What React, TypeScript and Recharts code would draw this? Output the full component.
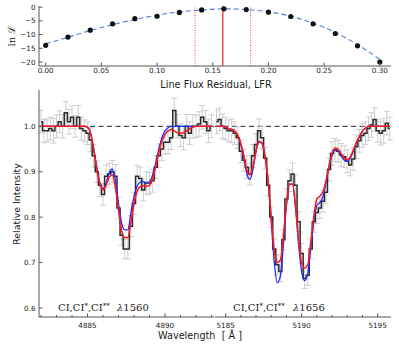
import React from 'react';
import { ComposedChart, Line, XAxis, YAxis, ReferenceLine, ErrorBar } from 'recharts';

// ---------- Top panel: likelihood vs line flux residual ----------
const lfrValues = [0, 0.02, 0.04, 0.06, 0.08, 0.1, 0.12, 0.14, 0.16, 0.18, 0.2, 0.22, 0.24, 0.26, 0.28, 0.3];
const lnLikelihood = [-13.9, -10.9, -8.4, -6.1, -4.2, -3.3, -1.9, -1.0, -0.6, -0.85, -1.8, -3.4, -6.1, -9.6, -14.1, -20.0];
const lnLikelihoodFit = [-13.3, -11.0, -8.5, -6.4, -4.5, -2.9, -1.7, -1.0, -0.6, -0.85, -1.7, -3.3, -5.8, -9.2, -13.7, -19.0];
const lfrBest = 0.159;
const lfrLow = 0.134;
const lfrHigh = 0.184;
const lfrTicks = [0, 0.05, 0.1, 0.15, 0.2, 0.25, 0.3];
const lnTicks = [-20, -15, -10, -5, 0];

// ---------- Bottom-left panel: CI λ1560 ----------
const leftWave = [
  4882.0, 4882.2, 4882.4, 4882.6, 4882.8, 4883.0, 4883.2, 4883.4, 4883.6, 4883.8,
  4884.0, 4884.2, 4884.4, 4884.6, 4884.8, 4885.0, 4885.2, 4885.4, 4885.6, 4885.8,
  4886.0, 4886.2, 4886.4, 4886.6, 4886.8, 4887.0, 4887.2, 4887.4, 4887.6, 4887.8,
  4888.0, 4888.2, 4888.4, 4888.6, 4888.8, 4889.0, 4889.2, 4889.4, 4889.6, 4889.8,
  4890.0, 4890.2, 4890.4, 4890.6, 4890.8, 4891.0, 4891.2, 4891.4, 4891.6, 4891.8,
  4892.0, 4892.2, 4892.4, 4892.6, 4892.8, 4893.0,
];
const leftFlux = [
  1.01, 0.99, 0.99, 0.995, 0.99, 1.0, 1.01, 1.0, 1.03, 1.01,
  1.02, 1.0, 1.02, 0.995, 0.99, 0.985, 0.97, 0.935, 0.9, 0.87,
  0.85, 0.89, 0.895, 0.9, 0.89, 0.82, 0.76, 0.73, 0.73, 0.78,
  0.83, 0.89, 0.885, 0.86, 0.875, 0.875, 0.88, 0.91, 0.935, 0.95,
  0.965, 0.965, 0.975, 1.035, 1.0, 0.98, 0.975, 1.0, 0.985, 1.0,
  1.0, 1.005, 1.02, 1.01, 0.99, 1.0,
];
const leftErr = [
  0.025, 0.026, 0.024, 0.025, 0.027, 0.025, 0.024, 0.026, 0.025, 0.027,
  0.025, 0.024, 0.026, 0.025, 0.024, 0.025, 0.026, 0.025, 0.024, 0.025,
  0.024, 0.025, 0.024, 0.025, 0.026, 0.024, 0.022, 0.022, 0.022, 0.023,
  0.024, 0.024, 0.025, 0.024, 0.025, 0.024, 0.025, 0.025, 0.026, 0.025,
  0.026, 0.025, 0.026, 0.027, 0.026, 0.025, 0.027, 0.026, 0.025, 0.026,
  0.025, 0.027, 0.026, 0.025, 0.026, 0.025,
];
const leftBlue = [
  1.0, 1.0, 1.0, 1.0, 1.0, 1.0, 1.0, 1.0, 1.0, 1.0,
  1.0, 1.0, 1.0, 1.0, 1.0, 0.998, 0.985, 0.95, 0.91, 0.875,
  0.862, 0.875, 0.898, 0.906, 0.88, 0.83, 0.787, 0.772, 0.772, 0.81,
  0.845, 0.868, 0.877, 0.878, 0.876, 0.878, 0.893, 0.92, 0.95, 0.975,
  0.99, 0.997, 1.0, 1.0, 1.0, 1.0, 1.0, 1.0, 1.0, 1.0,
  1.0, 1.0, 1.0, 1.0, 1.0, 1.0,
];
const leftRed = [
  1.0, 1.0, 1.0, 1.0, 1.0, 1.0, 1.0, 1.0, 1.0, 1.0,
  1.0, 1.0, 1.0, 1.0, 1.0, 0.998, 0.985, 0.95, 0.905, 0.873,
  0.86, 0.87, 0.888, 0.893, 0.865, 0.815, 0.771, 0.755, 0.755, 0.79,
  0.83, 0.857, 0.867, 0.869, 0.868, 0.87, 0.885, 0.912, 0.943, 0.967,
  0.982, 0.99, 0.993, 0.99, 0.986, 0.985, 0.986, 0.99, 0.995, 0.998,
  1.0, 1.0, 1.0, 1.0, 1.0, 1.0,
];
const leftMajorTicks = [4885, 4890];
const leftAllTicks = [4882, 4883, 4884, 4885, 4886, 4887, 4888, 4889, 4890, 4891, 4892, 4893];

// ---------- Bottom-right panel: CI λ1656 ----------
const rightWave = [
  5184.4, 5184.6, 5184.8, 5185.0, 5185.2, 5185.4, 5185.6, 5185.8, 5186.0, 5186.2,
  5186.4, 5186.6, 5186.8, 5187.0, 5187.2, 5187.4, 5187.6, 5187.8, 5188.0, 5188.2,
  5188.4, 5188.6, 5188.8, 5189.0, 5189.2, 5189.4, 5189.6, 5189.8, 5190.0, 5190.2,
  5190.4, 5190.6, 5190.8, 5191.0, 5191.2, 5191.4, 5191.6, 5191.8, 5192.0, 5192.2,
  5192.4, 5192.6, 5192.8, 5193.0, 5193.2, 5193.4, 5193.6, 5193.8, 5194.0, 5194.2,
  5194.4, 5194.6, 5194.8, 5195.0, 5195.2, 5195.4, 5195.6, 5195.8,
];
const rightFlux = [
  1.01, 1.015, 1.0, 0.995, 0.99, 0.99, 0.985, 0.975, 0.945, 0.925,
  0.91, 0.895, 0.935, 0.96, 0.99, 0.975, 0.93, 0.87, 0.8, 0.73,
  0.695, 0.68, 0.75, 0.84, 0.88, 0.895, 0.87, 0.79, 0.72, 0.665,
  0.672, 0.73, 0.79, 0.81, 0.82, 0.835, 0.855, 0.905, 0.94, 0.948,
  0.945, 0.937, 0.933, 0.923, 0.915, 0.928, 0.955, 0.968, 0.98, 0.985,
  0.995, 1.003, 1.015, 0.99, 0.985, 0.99, 1.007, 0.995,
];
const rightErr = [
  0.026, 0.025, 0.027, 0.025, 0.024, 0.026, 0.025, 0.024, 0.025, 0.024,
  0.025, 0.024, 0.025, 0.024, 0.026, 0.025, 0.024, 0.023, 0.023, 0.022,
  0.022, 0.022, 0.022, 0.023, 0.024, 0.024, 0.023, 0.022, 0.022, 0.022,
  0.022, 0.022, 0.023, 0.024, 0.023, 0.024, 0.024, 0.025, 0.026, 0.025,
  0.024, 0.025, 0.024, 0.025, 0.024, 0.025, 0.026, 0.025, 0.026, 0.025,
  0.026, 0.027, 0.026, 0.025, 0.026, 0.027, 0.026, 0.025,
];
const rightBlue = [
  1.0, 1.0, 1.0, 0.998, 0.995, 0.993, 0.99, 0.98, 0.96, 0.93,
  0.895, 0.883, 0.905, 0.945, 0.966, 0.962, 0.93, 0.875, 0.79, 0.7,
  0.655, 0.67, 0.74, 0.825, 0.872, 0.872, 0.82, 0.74, 0.68, 0.66,
  0.675, 0.73, 0.79, 0.826, 0.832, 0.845, 0.875, 0.91, 0.935, 0.948,
  0.945, 0.935, 0.926, 0.923, 0.93, 0.945, 0.962, 0.977, 0.989, 0.996,
  1.0, 1.0, 1.0, 1.0, 1.0, 1.0, 1.0, 1.0,
];
const rightRed = [
  1.0, 1.0, 1.0, 0.998, 0.995, 0.993, 0.99, 0.98, 0.962, 0.935,
  0.903, 0.893, 0.912, 0.947, 0.967, 0.963, 0.933, 0.88, 0.8, 0.725,
  0.7, 0.705, 0.76, 0.83, 0.873, 0.873, 0.826, 0.75, 0.7, 0.688,
  0.695, 0.745, 0.8, 0.84, 0.846, 0.856, 0.88, 0.913, 0.94, 0.952,
  0.95, 0.94, 0.93, 0.927, 0.932, 0.948, 0.964, 0.978, 0.99, 0.996,
  1.0, 1.0, 1.0, 1.0, 1.0, 1.0, 1.0, 1.0,
];
const rightMajorTicks = [5185, 5190, 5195];
const rightAllTicks = [5185, 5186, 5187, 5188, 5189, 5190, 5191, 5192, 5193, 5194, 5195];

const intensityTicks = [0.6, 0.7, 0.8, 0.9, 1.0];
const continuumLevel = 1.0;

// ---------- styling ----------
const FRAME = '#555';
const TXT = '#1a1a1a';
const SANS = '"DejaVu Sans", sans-serif';
const SERIF = '"DejaVu Serif", serif';
const TICK_FS = 7.2;
const MAJOR_LEN = 3.5;
const MINOR_LEN = 2;

const isIn = (arr: number[], v: number) => arr.some((m) => Math.abs(m - v) < 1e-6);

const bottomTick = (majors: number[], fmt: (v: number) => string, margin: number, gap: number) => (props: any) => {
  const { x, y, payload } = props;
  const v = payload.value;
  const major = isIn(majors, v);
  const base = y - margin;
  return (
    <g>
      <line x1={x} x2={x} y1={base} y2={base - (major ? MAJOR_LEN : MINOR_LEN)} stroke={FRAME} strokeWidth={1} />
      {major && (
        <text x={x} y={base + gap} textAnchor="middle" fontSize={TICK_FS} fontFamily={SANS} fill={TXT}>
          {fmt(v)}
        </text>
      )}
    </g>
  );
};

const topTick = (majors: number[]) => (props: any) => {
  const { x, y, payload } = props;
  const major = isIn(majors, payload.value);
  return <line x1={x} x2={x} y1={y} y2={y + (major ? MAJOR_LEN : MINOR_LEN)} stroke={FRAME} strokeWidth={1} />;
};

const leftTick = (fmt: ((v: number) => string) | null, margin: number) => (props: any) => {
  const { x, y, payload } = props;
  const base = x + margin;
  return (
    <g>
      <line x1={base} x2={base + MAJOR_LEN} y1={y} y2={y} stroke={FRAME} strokeWidth={1} />
      {fmt && (
        <text x={base - 3.5} y={y} dy="0.36em" textAnchor="end" fontSize={TICK_FS} fontFamily={SANS} fill={TXT}>
          {fmt(payload.value)}
        </text>
      )}
    </g>
  );
};

const rightTick = () => (props: any) => {
  const { x, y } = props;
  return <line x1={x} x2={x - MAJOR_LEN} y1={y} y2={y} stroke={FRAME} strokeWidth={1} />;
};

const lnFmt = (v: number) => (v < 0 ? '\u2212' + Math.abs(v) : String(v));
const lfrFmt = (v: number) => v.toFixed(2);
const waveFmt = (v: number) => String(v);
const intFmt = (v: number) => v.toFixed(1);

const lfrData = lfrValues.map((x, i) => ({ x, lnL: lnLikelihood[i], fit: lnLikelihoodFit[i] }));
const leftData = leftWave.map((w, i) => ({ w, flux: leftFlux[i], err: leftErr[i], blue: leftBlue[i], red: leftRed[i] }));
const rightData = rightWave.map((w, i) => ({ w, flux: rightFlux[i], err: rightErr[i], blue: rightBlue[i], red: rightRed[i] }));

const LFR_DOMAIN: [number, number] = [-0.006, 0.31];
const LN_DOMAIN: [number, number] = [-21.46, 0.44];
const LEFT_DOMAIN: [number, number] = [4881.87, 4893.16];
const RIGHT_DOMAIN: [number, number] = [5184.3, 5195.88];
const INT_DOMAIN: [number, number] = [0.58, 1.08];

function SpectrumPanel({
  data, domain, majors, all, showYLabels, width, left, marginRight, yWidth,
}: {
  data: any[]; domain: [number, number]; majors: number[]; all: number[]; showYLabels: boolean;
  width: number; left: number; marginRight: number; yWidth: number;
}) {
  return (
    <div style={{ position: 'absolute', left, top: 84 }}>
      <ComposedChart width={width} height={249} data={data} margin={{ top: 6, right: marginRight, bottom: 0, left: 0 }}>
        <XAxis
          dataKey="w" type="number" domain={domain} allowDataOverflow ticks={all} interval={0}
          height={16} tickSize={0} tickMargin={2} tickLine={false}
          axisLine={{ stroke: FRAME, strokeWidth: 1 }}
          tick={bottomTick(majors, waveFmt, 2, 10.5)}
        />
        <XAxis
          xAxisId="top" orientation="top" dataKey="w" type="number" domain={domain} allowDataOverflow ticks={all}
          interval={0} height={0} tickSize={0} tickMargin={0} tickLine={false}
          axisLine={{ stroke: FRAME, strokeWidth: 1 }} tick={topTick(majors)}
        />
        <YAxis
          type="number" domain={INT_DOMAIN} allowDataOverflow ticks={intensityTicks} interval={0}
          width={yWidth} tickSize={0} tickMargin={2} tickLine={false}
          axisLine={{ stroke: FRAME, strokeWidth: 1 }}
          tick={leftTick(showYLabels ? intFmt : null, 2)}
        />
        <YAxis
          yAxisId="r" orientation="right" type="number" domain={INT_DOMAIN} allowDataOverflow ticks={intensityTicks}
          interval={0} width={0} tickSize={0} tickMargin={0} tickLine={false}
          axisLine={{ stroke: FRAME, strokeWidth: 1 }} tick={rightTick()}
        />
        <ReferenceLine y={continuumLevel} stroke="#222" strokeWidth={1} strokeDasharray="5 3.5" />
        <Line dataKey="flux" type="linear" stroke="none" dot={false} isAnimationActive={false}>
          <ErrorBar dataKey="err" width={3} stroke="#c2c2c2" strokeWidth={0.8} direction="y" />
        </Line>
        <Line dataKey="flux" type="step" stroke="#2a2a2a" strokeWidth={1.5} dot={false} isAnimationActive={false} />
        <Line dataKey="blue" type="monotone" stroke="#1f2bff" strokeWidth={1.3} dot={false} isAnimationActive={false} />
        <Line dataKey="red" type="monotone" stroke="#ff1a1a" strokeWidth={1.5} dot={false} isAnimationActive={false} />
      </ComposedChart>
    </div>
  );
}

export default function App() {
  return (
    <div style={{ position: 'absolute', left: 0, top: 0, width: 399, height: 349, background: '#fff', overflow: 'hidden' }}>
      <div style={{ position: 'absolute', left: 0, top: 0 }}>
        <ComposedChart width={399} height={95} data={lfrData} margin={{ top: 6, right: 8, bottom: 0, left: 0 }}>
          <XAxis
            dataKey="x" type="number" domain={LFR_DOMAIN} allowDataOverflow ticks={lfrTicks} interval={0}
            height={29} tickSize={0} tickMargin={2} tickLine={false}
            axisLine={{ stroke: FRAME, strokeWidth: 1 }}
            tick={bottomTick(lfrTicks, lfrFmt, 2, 7)}
          />
          <XAxis
            xAxisId="top" orientation="top" dataKey="x" type="number" domain={LFR_DOMAIN} allowDataOverflow
            ticks={lfrTicks} interval={0} height={0} tickSize={0} tickMargin={0} tickLine={false}
            axisLine={{ stroke: FRAME, strokeWidth: 1 }} tick={topTick(lfrTicks)}
          />
          <YAxis
            type="number" domain={LN_DOMAIN} allowDataOverflow ticks={lnTicks} interval={0}
            width={39} tickSize={0} tickMargin={2} tickLine={false}
            axisLine={{ stroke: FRAME, strokeWidth: 1 }} tick={leftTick(lnFmt, 2)}
          />
          <YAxis
            yAxisId="r" orientation="right" type="number" domain={LN_DOMAIN} allowDataOverflow ticks={lnTicks}
            interval={0} width={0} tickSize={0} tickMargin={0} tickLine={false}
            axisLine={{ stroke: FRAME, strokeWidth: 1 }} tick={rightTick()}
          />
          <ReferenceLine x={lfrLow} stroke="#e84a4a" strokeWidth={1} strokeDasharray="1 1.5" />
          <ReferenceLine x={lfrHigh} stroke="#e84a4a" strokeWidth={1} strokeDasharray="1 1.5" />
          <ReferenceLine x={lfrBest} stroke="#ee4040" strokeWidth={1.4} />
          <Line dataKey="fit" type="monotone" stroke="#4d7ee0" strokeWidth={1.1} strokeDasharray="5 3" dot={false} isAnimationActive={false} />
          <Line dataKey="lnL" type="linear" stroke="none" dot={{ r: 2.6, fill: '#111', stroke: 'none' }} isAnimationActive={false} />
        </ComposedChart>
      </div>

      <SpectrumPanel data={leftData} domain={LEFT_DOMAIN} majors={leftMajorTicks} all={leftAllTicks} showYLabels width={214} left={0} marginRight={0} yWidth={39} />
      <SpectrumPanel data={rightData} domain={RIGHT_DOMAIN} majors={rightMajorTicks} all={rightAllTicks} showYLabels={false} width={184} left={215} marginRight={8} yWidth={0} />

      <svg width={399} height={349} style={{ position: 'absolute', left: 0, top: 0, pointerEvents: 'none' }}>
        <text x={11} y={36} transform="rotate(-90 11 36)" textAnchor="middle" dy="0.35em" fontFamily={SERIF} fontSize={10} fill={TXT}>
          ln ℒ
        </text>
        <text x={216} y={87.5} textAnchor="middle" fontFamily={SANS} fontSize={9.7} fill={TXT}>
          Line Flux Residual, LFR
        </text>
        <text x={16.5} y={204} transform="rotate(-90 16.5 204)" textAnchor="middle" dy="0.35em" fontFamily={SANS} fontSize={9.4} fill={TXT}>
          Relative Intensity
        </text>
        <text x={200} y={338.5} textAnchor="middle" fontFamily={SANS} fontSize={9.7} fill={TXT} style={{ whiteSpace: 'pre' }}>
          {'Wavelength  [ Å ]'}
        </text>
        <text x={58} y={311} fontFamily={SERIF} fontSize={10} fill={TXT}>
          CI,CI<tspan dy={-3.5} fontSize={7}>*</tspan>
          <tspan dy={3.5}>,CI</tspan>
          <tspan dy={-3.5} fontSize={7}>**</tspan>
        </text>
        <text x={117} y={311} fontFamily={SERIF} fontSize={10} fill={TXT}>
          <tspan fontStyle="italic">λ</tspan>1560
        </text>
        <text x={233} y={311} fontFamily={SERIF} fontSize={10} fill={TXT}>
          CI,CI<tspan dy={-3.5} fontSize={7}>*</tspan>
          <tspan dy={3.5}>,CI</tspan>
          <tspan dy={-3.5} fontSize={7}>**</tspan>
        </text>
        <text x={293} y={311} fontFamily={SERIF} fontSize={10} fill={TXT}>
          <tspan fontStyle="italic">λ</tspan>1656
        </text>
      </svg>
    </div>
  );
}
